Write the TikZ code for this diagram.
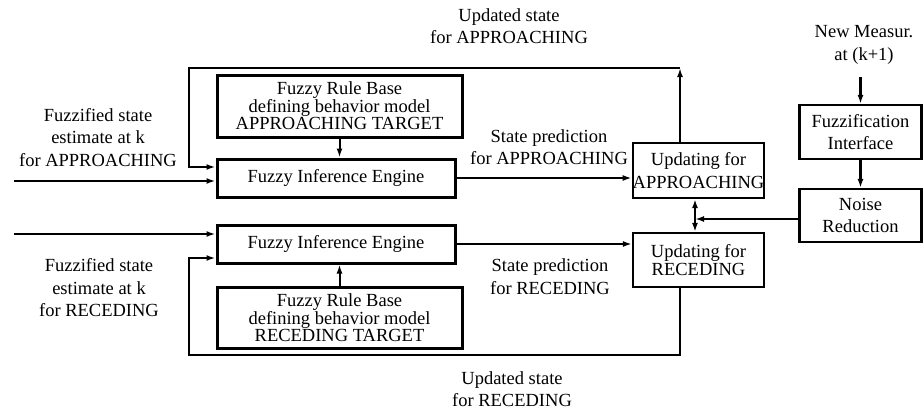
\documentclass[tikz,border=0pt]{standalone}
\usepackage{fontspec}
\setmainfont{Liberation Serif}
\usetikzlibrary{positioning, arrows.meta, calc}

\begin{document}
\begin{tikzpicture}[
  x=1pt, y=-1pt,
  every node/.style={font=\fontsize{18.5}{22.5}\selectfont, align=center},
  fuzzybox/.style={
    rectangle, draw, line width=3pt, inner sep=0pt
  },
  plainbox/.style={rectangle, draw, line width=2.2pt, inner sep=0pt},
  tightlines/.style={font=\fontsize{18.5}{16}\selectfont},
  flow/.style={line width=2pt, -{Latex[length=9pt,width=6pt]}},
  back/.style={line width=2.6pt, -{Latex[length=9pt,width=6pt]}}
]
\useasboundingbox (0,0) rectangle (923,412);

% approaching branch
\node [fuzzybox, tightlines, minimum width=245pt, minimum height=62pt] (ruleA) at (339.5,106)
  {Fuzzy Rule Base\\ defining behavior model\\ APPROACHING TARGET};
\node [fuzzybox, minimum width=238pt, minimum height=38pt] (fieA) at (336,178) {Fuzzy Inference Engine};
\node [plainbox, minimum width=131pt, minimum height=55pt] (upA) at (698.5,170.5) {Updating for\\APPROACHING};

% receding branch
\node [fuzzybox, minimum width=238pt, minimum height=38pt] (fieR) at (336,244) {Fuzzy Inference Engine};
\node [fuzzybox, tightlines, minimum width=245pt, minimum height=61pt] (ruleR) at (339.5,317.5)
  {Fuzzy Rule Base\\ defining behavior model\\ RECEDING TARGET};
\node [plainbox, tightlines, minimum width=131pt, minimum height=54pt] (upR) at (698.5,260) {Updating for\\RECEDING};

% measurement side
\node [plainbox, minimum width=122pt, minimum height=54pt] (fuzz) at (860.5,132) {Fuzzification\\Interface};
\node [plainbox, minimum width=122pt, minimum height=53pt] (noise) at (860.5,215.5) {Noise\\Reduction};
\node (meas) at (864,45) {New Measur.\\at (k+1)};

% labels
\node (updA) at (509,26) {Updated state\\for APPROACHING};
\node (predA) at (549,147) {State prediction\\for APPROACHING};
\node (predR) at (550,276.5) {State prediction\\for RECEDING};
\node (updR) at (512,389) {Updated state\\for RECEDING};
\node (estA) at (98,137.5) {Fuzzified state\\estimate at k\\for APPROACHING};
\node (estR) at (99,288) {Fuzzified state\\estimate at k\\for RECEDING};

\coordinate (inA) at (14,181);
\coordinate (inR) at (14,234);
\coordinate (topR) at (680,68);
\coordinate (topL) at (189,68);
\coordinate (botR) at (680,355);
\coordinate (botL) at (189,355);
\coordinate (jn) at (695,219);

\draw [flow] (ruleA.south) -- (ruleA.south |- fieA.north);
\draw [flow] (ruleR.north) -- (ruleR.north |- fieR.south);
\draw [flow] (inA) -- (inA -| fieA.west);
\draw [flow] (inR) -- (inR -| fieR.west);
\draw [flow] (fieA.east) -- (fieA.east -| upA.west);
\draw [flow] (fieR.east) -- (fieR.east -| upR.west);

% feedback loops
\draw [back] (topR |- upA.north) -- (topR);
\draw [back] (topR) -- (topL) |- ([yshift=11pt]fieA.west);
\draw [back] (topR |- upR.south) -- (botR) -- (botL) |- ([yshift=-14pt]fieR.west);

\draw [back] ([yshift=-9pt]meas.south -| fuzz.north) -- (fuzz.north);
\draw [back] (fuzz.south) -- (noise.north);
\draw [back] (noise.west |- jn) -- (jn);
\draw [flow] (jn) -- (jn |- upA.south);
\draw [flow] (jn) -- (jn |- upR.north);
\end{tikzpicture}
\end{document}
